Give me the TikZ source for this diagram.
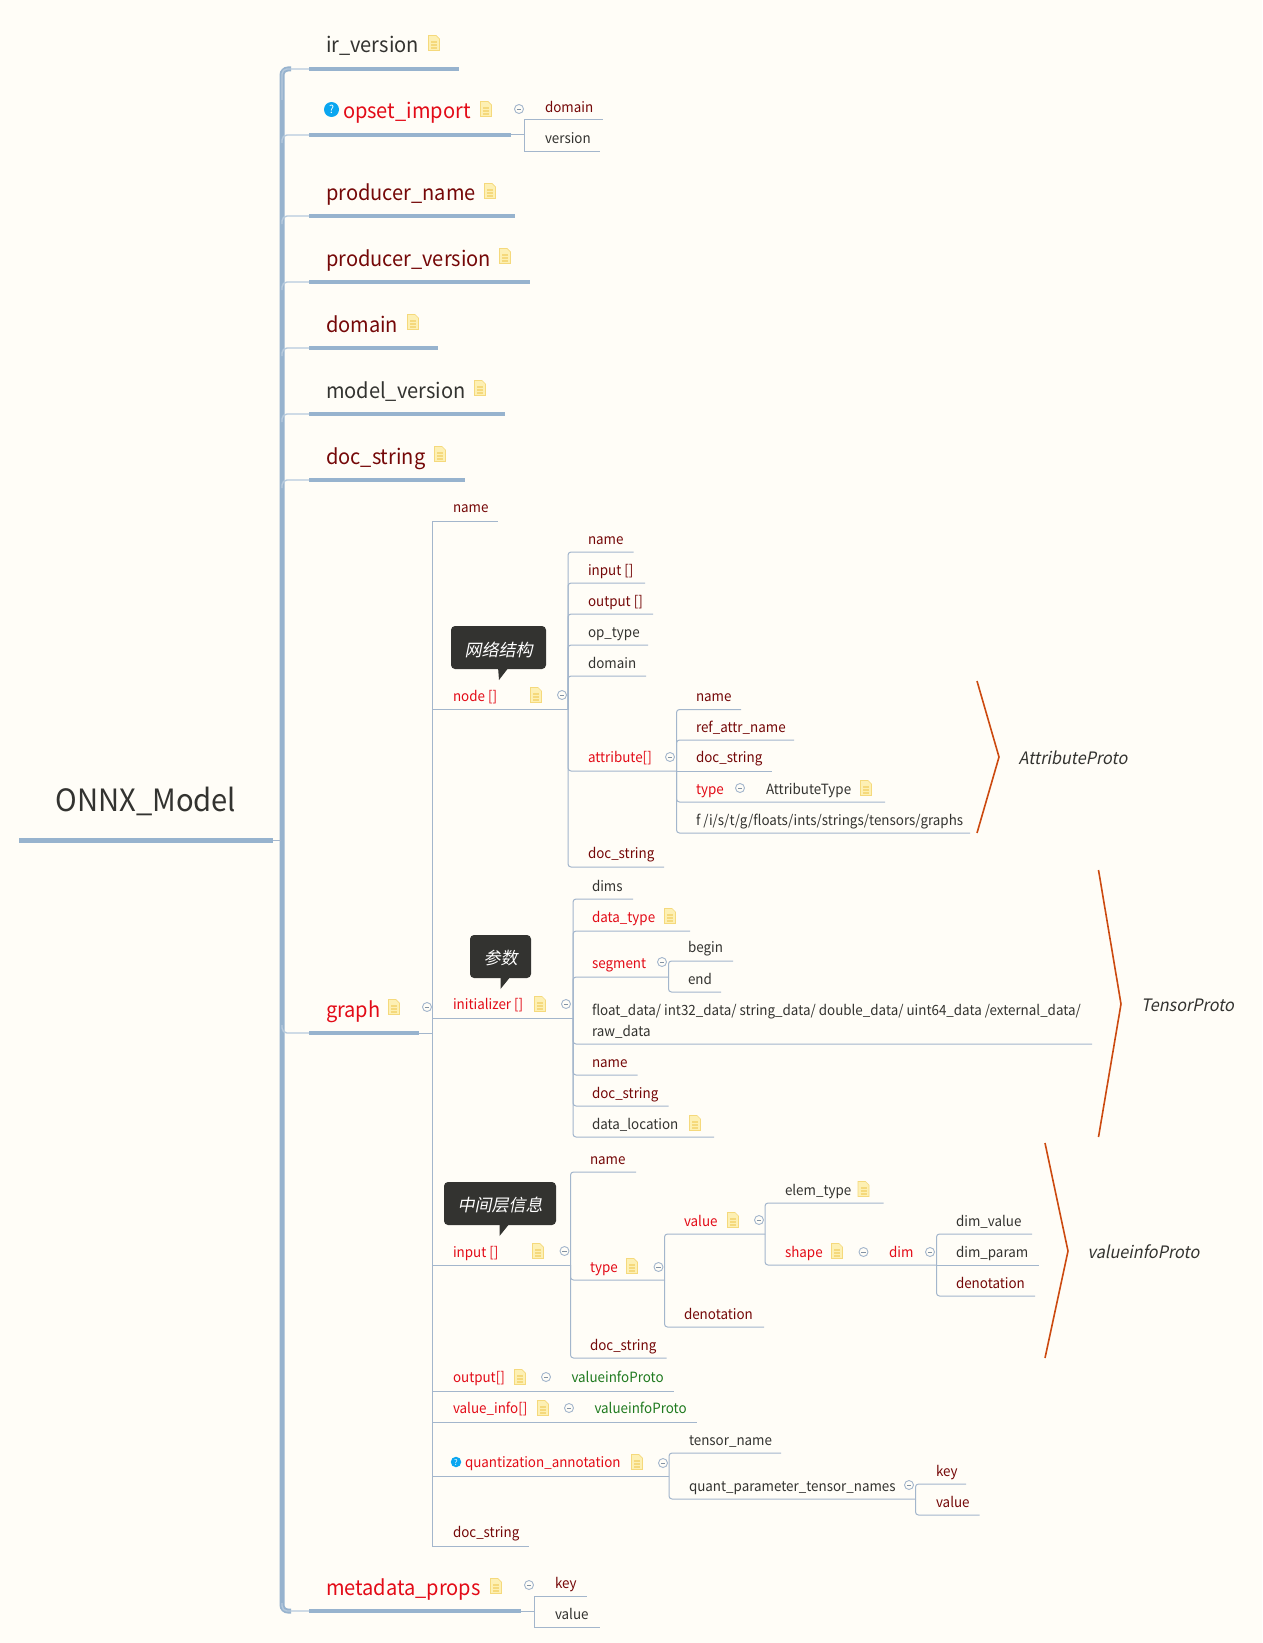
\documentclass[tikz,border=0pt]{standalone}
\usepackage{fontspec}
\setmainfont[AutoFakeSlant=0.2,FakeStretch=0.95]{Noto Sans CJK SC}
\newfontfamily\tipfont[AutoFakeSlant=0.2]{Noto Sans CJK SC}
\definecolor{PaperColor}{HTML}{FFFDF7}
\definecolor{TrunkColor}{HTML}{97B3CE}
\definecolor{EdgeColor}{HTML}{A3B6CC}
\definecolor{InkColor}{HTML}{333330}
\definecolor{DeepColor}{HTML}{750808}
\definecolor{AlertColor}{HTML}{E30B17}
\definecolor{LeafColor}{HTML}{1F7A1F}
\definecolor{BraceColor}{HTML}{CC4A10}
\definecolor{NoteFill}{HTML}{FDF0B4}
\definecolor{NoteLine}{HTML}{F5D97C}
\definecolor{HelpColor}{HTML}{0AA6F0}

\begin{document}
\begin{tikzpicture}[x=1pt,y=-1pt]
\useasboundingbox[fill=PaperColor] (0,0) rectangle (1262,1643);

\coordinate (S_root) at (19,840);
\coordinate (E_root) at (273,840);
\coordinate (C_root) at (281,840);
\coordinate (T_top) at (291,69);
\coordinate (T_bot) at (291,1611);

\coordinate (C_ir) at (282,100);
\coordinate (S_ir) at (309,69);
\coordinate (E_ir) at (459,69);
\coordinate (S_opset) at (309,135);
\coordinate (E_opset) at (511,135);
\coordinate (C_opset) at (524.5,135);
\coordinate (S_pname) at (309,216);
\coordinate (E_pname) at (515,216);
\coordinate (S_pver) at (309,282);
\coordinate (E_pver) at (530,282);
\coordinate (S_domain) at (309,348);
\coordinate (E_domain) at (438,348);
\coordinate (S_mver) at (309,414);
\coordinate (E_mver) at (505,414);
\coordinate (S_doc) at (309,480);
\coordinate (E_doc) at (465,480);
\coordinate (S_graph) at (309,1033);
\coordinate (E_graph) at (419,1033);
\coordinate (C_graph) at (432.5,1033);
\coordinate (S_meta) at (309,1611);
\coordinate (E_meta) at (521,1611);
\coordinate (C_meta) at (534,1611);

\coordinate (E_od) at (603,120);
\coordinate (E_ov) at (600,151.5);
\coordinate (E_mk) at (586.5,1596);
\coordinate (E_mv) at (599.5,1627);

\coordinate (E_gname) at (498,521);
\coordinate (C_node) at (568,709.5);
\coordinate (C_init) at (573,1018);
\coordinate (C_input) at (570.5,1265);
\coordinate (E_goutput) at (674,1391);
\coordinate (E_gvalue) at (697,1422);
\coordinate (C_quant) at (669,1476);
\coordinate (E_gdoc) at (529,1546);

\coordinate (E_n1) at (633.5,552);
\coordinate (E_n2) at (645,583);
\coordinate (E_n3) at (653,614);
\coordinate (E_n4) at (648,645);
\coordinate (E_n5) at (646,676);
\coordinate (C_attr) at (676.5,771);
\coordinate (E_n7) at (664,867);

\coordinate (E_a1) at (741,709.5);
\coordinate (E_a2) at (794,740);
\coordinate (E_a3) at (772,771);
\coordinate (E_a4) at (885,802);
\coordinate (E_a5) at (970,833);

\coordinate (E_i1) at (633,899);
\coordinate (E_i2) at (690,931);
\coordinate (C_seg) at (668.5,977);
\coordinate (E_begin) at (733,961);
\coordinate (E_end) at (721,992);
\coordinate (E_i4) at (1092,1044);
\coordinate (E_i5) at (637.5,1075);
\coordinate (E_i6) at (668.5,1106);
\coordinate (E_i7) at (714,1137);

\coordinate (E_v1) at (636,1172);
\coordinate (C_type) at (664.5,1280);
\coordinate (E_v3) at (666.5,1358);
\coordinate (C_value) at (765,1234);
\coordinate (E_deno) at (764,1327);
\coordinate (E_elem) at (883.5,1203);
\coordinate (C_shape) at (936.5,1265);
\coordinate (E_dv) at (1032,1234);
\coordinate (E_dp) at (1039,1265);
\coordinate (E_dd) at (1035,1296);

\coordinate (E_tn) at (781,1453);
\coordinate (C_qp) at (915.5,1499);
\coordinate (E_qk) at (966,1484);
\coordinate (E_qv) at (979.5,1515);

\coordinate (B1_1) at (977,681);
\coordinate (B1_2) at (999,757);
\coordinate (B1_3) at (977,833);
\coordinate (B2_1) at (1098.5,870);
\coordinate (B2_2) at (1121,1004);
\coordinate (B2_3) at (1098.5,1137);
\coordinate (B3_1) at (1045,1143);
\coordinate (B3_2) at (1068,1251);
\coordinate (B3_3) at (1045,1358);


\tikzset{TrunkStyle/.style = {draw=TrunkColor, line width=5pt, rounded corners=6pt} }
\tikzset{TopicStyle/.style = {draw=TrunkColor, line width=4pt} }
\tikzset{StubStyle/.style = {draw=TrunkColor!70, line width=1.4pt, rounded corners=5pt} }
\tikzset{EdgeStyle/.style = {draw=EdgeColor, line width=1pt} }
\tikzset{CurveStyle/.style = {EdgeStyle, rounded corners=3pt} }
\tikzset{BraceStyle/.style = {draw=BraceColor, line width=1.6pt} }

\draw[TrunkStyle] (T_top) -- ++(-9,0) |- (T_bot);
\draw[TopicStyle, line width=5pt] (S_root) -- (E_root);
\draw[EdgeStyle] (E_root) -- (C_root);
\draw[StubStyle] (C_ir) |- (S_ir);
\draw[StubStyle] (C_ir |- E_opset) ++(0,8) |- (S_opset);
\draw[StubStyle] (C_ir |- E_pname) ++(0,8) |- (S_pname);
\draw[StubStyle] (C_ir |- E_pver) ++(0,8) |- (S_pver);
\draw[StubStyle] (C_ir |- E_domain) ++(0,8) |- (S_domain);
\draw[StubStyle] (C_ir |- E_mver) ++(0,8) |- (S_mver);
\draw[StubStyle] (C_ir |- E_doc) ++(0,8) |- (S_doc);
\draw[StubStyle] (C_ir |- E_graph) ++(0,-8) |- (S_graph);
\draw[StubStyle] (C_ir |- E_meta) ++(0,-8) |- (S_meta);

\draw[TopicStyle] (S_ir) -- (E_ir);
\draw[TopicStyle] (S_opset) -- (E_opset);
\draw[TopicStyle] (S_pname) -- (E_pname);
\draw[TopicStyle] (S_pver) -- (E_pver);
\draw[TopicStyle] (S_domain) -- (E_domain);
\draw[TopicStyle] (S_mver) -- (E_mver);
\draw[TopicStyle] (S_doc) -- (E_doc);
\draw[TopicStyle] (S_graph) -- (E_graph);
\draw[TopicStyle] (S_meta) -- (E_meta);

\draw[EdgeStyle] (E_opset) -- (C_opset);
\draw[EdgeStyle] (C_opset) |- (E_od);
\draw[EdgeStyle] (C_opset) |- (E_ov);
\draw[EdgeStyle] (E_graph) -- (C_graph);
\draw[EdgeStyle] (E_meta) -- (C_meta);
\draw[EdgeStyle] (C_meta) |- (E_mk);
\draw[EdgeStyle] (C_meta) |- (E_mv);

\draw[EdgeStyle] (C_graph) |- (E_gname);
\draw[EdgeStyle] (C_graph) |- (C_node);
\draw[EdgeStyle] (C_graph) |- (C_init);
\draw[EdgeStyle] (C_graph) |- (C_input);
\draw[EdgeStyle] (C_graph) |- (E_goutput);
\draw[EdgeStyle] (C_graph) |- (E_gvalue);
\draw[EdgeStyle] (C_graph) |- (C_quant);
\draw[EdgeStyle] (C_graph) |- (E_gdoc);

\draw[CurveStyle] (C_node) |- (E_n1);
\draw[CurveStyle] (C_node) |- (E_n2);
\draw[CurveStyle] (C_node) |- (E_n3);
\draw[CurveStyle] (C_node) |- (E_n4);
\draw[CurveStyle] (C_node) |- (E_n5);
\draw[CurveStyle] (C_node) |- (C_attr);
\draw[CurveStyle] (C_node) |- (E_n7);
\draw[CurveStyle] (C_attr) |- (E_a1);
\draw[CurveStyle] (C_attr) |- (E_a2);
\draw[EdgeStyle] (C_attr) -- (E_a3);
\draw[CurveStyle] (C_attr) |- (E_a4);
\draw[CurveStyle] (C_attr) |- (E_a5);

\draw[CurveStyle] (C_init) |- (E_i1);
\draw[CurveStyle] (C_init) |- (E_i2);
\draw[CurveStyle] (C_init) |- (C_seg);
\draw[CurveStyle] (C_seg) |- (E_begin);
\draw[CurveStyle] (C_seg) |- (E_end);
\draw[CurveStyle] (C_init) |- (E_i4);
\draw[CurveStyle] (C_init) |- (E_i5);
\draw[CurveStyle] (C_init) |- (E_i6);
\draw[CurveStyle] (C_init) |- (E_i7);

\draw[CurveStyle] (C_input) |- (E_v1);
\draw[CurveStyle] (C_input) |- (C_type);
\draw[CurveStyle] (C_input) |- (E_v3);
\draw[CurveStyle] (C_type) |- (C_value);
\draw[CurveStyle] (C_type) |- (E_deno);
\draw[CurveStyle] (C_value) |- (E_elem);
\draw[CurveStyle] (C_value) |- (C_shape);
\draw[CurveStyle] (C_shape) |- (E_dv);
\draw[EdgeStyle] (C_shape) -- (E_dp);
\draw[CurveStyle] (C_shape) |- (E_dd);

\draw[CurveStyle] (C_quant) |- (E_tn);
\draw[CurveStyle] (C_quant) |- (C_qp);
\draw[CurveStyle] (C_qp) |- (E_qk);
\draw[CurveStyle] (C_qp) |- (E_qv);

\draw[BraceStyle] (B1_1) -- (B1_2) -- (B1_3);
\draw[BraceStyle] (B2_1) -- (B2_2) -- (B2_3);
\draw[BraceStyle] (B3_1) -- (B3_2) -- (B3_3);


\tikzset{TextStyle/.style = {
 anchor = base west,
 inner sep = 0pt,
 outer sep = 0pt} }
\tikzset{TopStyle/.style = {TextStyle, font=\fontsize{21.1}{22}\selectfont} }
\tikzset{SubStyle/.style = {TextStyle, font=\fontsize{14.1}{21}\selectfont} }
\tikzset{InkStyle/.style = {text=InkColor} }
\tikzset{DeepStyle/.style = {text=DeepColor} }
\tikzset{AlertStyle/.style = {text=AlertColor} }
\tikzset{LeafStyle/.style = {text=LeafColor} }
\tikzset{ProtoStyle/.style = {anchor=west, inner sep=0pt, text=InkColor, font=\fontsize{17.1}{18}\selectfont\itshape} }
\tikzset{TipStyle/.style = {
 fill = InkColor,
 text = white,
 rounded corners = 4pt,
 inner sep = 0pt,
 font = \tipfont\fontsize{17}{17}\selectfont\itshape} }
\tikzset{HelpStyle/.style = {
 shape = circle,
 fill = HelpColor,
 text = white,
 inner sep = 0pt,
 font = \bfseries} }

\node[TextStyle, InkStyle, font=\fontsize{30.7}{31}\selectfont] (T_root) at (55.5,811) {ONNX\_Model};

\node[TopStyle, InkStyle] (T_ir) at (326,53) {ir\_version};
\node[TopStyle, AlertStyle] (T_opset) at (343,119) {opset\_import};
\node[TopStyle, DeepStyle] (T_pname) at (326,200) {producer\_name};
\node[TopStyle, DeepStyle] (T_pver) at (326,266) {producer\_version};
\node[TopStyle, DeepStyle] (T_domain) at (326,332) {domain};
\node[TopStyle, InkStyle] (T_mver) at (326,398) {model\_version};
\node[TopStyle, DeepStyle] (T_doc) at (326,464) {doc\_string};
\node[TopStyle, AlertStyle] (T_graph) at (326,1017.5) {graph};
\node[TopStyle, AlertStyle] (T_meta) at (326,1595) {metadata\_props};

\node[SubStyle, DeepStyle] (T_od) at (545,113) {domain};
\node[SubStyle, InkStyle] (T_ov) at (545,143.5) {version};
\node[SubStyle, DeepStyle] (T_mk) at (555,1588) {key};
\node[SubStyle, InkStyle] (T_mv) at (555,1619) {value};

\node[SubStyle, DeepStyle] (T_gname) at (453,512.5) {name};
\node[SubStyle, AlertStyle] (T_node) at (453,701.5) {node []};
\node[SubStyle, AlertStyle] (T_init) at (453,1009.5) {initializer []};
\node[SubStyle, AlertStyle] (T_input) at (453,1257) {input []};
\node[SubStyle, AlertStyle] (T_goutput) at (453,1382.5) {output[]};
\node[SubStyle, LeafStyle] (T_gout) at (571.5,1382.5) {valueinfoProto};
\node[SubStyle, AlertStyle] (T_gvalue) at (453,1413.5) {value\_info[]};
\node[SubStyle, LeafStyle] (T_gval) at (594.5,1413.5) {valueinfoProto};
\node[SubStyle, AlertStyle] (T_quant) at (465,1467.5) {quantization\_annotation};
\node[SubStyle, DeepStyle] (T_gdoc) at (453,1537.5) {doc\_string};

\node[SubStyle, DeepStyle] (T_n1) at (588,544) {name};
\node[SubStyle, DeepStyle] (T_n2) at (588,575) {input []};
\node[SubStyle, DeepStyle] (T_n3) at (588,606) {output []};
\node[SubStyle, InkStyle] (T_n4) at (588,637) {op\_type};
\node[SubStyle, InkStyle] (T_n5) at (588,668) {domain};
\node[SubStyle, AlertStyle] (T_attr) at (588,762.5) {attribute[]};
\node[SubStyle, DeepStyle] (T_n7) at (588,858) {doc\_string};

\node[SubStyle, DeepStyle] (T_a1) at (696,701.5) {name};
\node[SubStyle, DeepStyle] (T_a2) at (696,732) {ref\_attr\_name};
\node[SubStyle, DeepStyle] (T_a3) at (696,762.5) {doc\_string};
\node[SubStyle, AlertStyle] (T_a4) at (696,794) {type};
\node[SubStyle, InkStyle] (T_atype) at (766,794) {AttributeType};
\node[SubStyle, InkStyle] (T_a5) at (696,825) {f /i/s/t/g/floats/ints/strings/tensors/graphs};

\node[SubStyle, InkStyle] (T_i1) at (592,891) {dims};
\node[SubStyle, AlertStyle] (T_i2) at (592,922) {data\_type};
\node[SubStyle, AlertStyle] (T_seg) at (592,968) {segment};
\node[SubStyle, InkStyle] (T_begin) at (688,952.5) {begin};
\node[SubStyle, InkStyle] (T_end) at (688,984) {end};
\node[SubStyle, InkStyle, anchor=south west, align=left] (T_i4) at (592,1038.5) {float\_data/ int32\_data/ string\_data/ double\_data/ uint64\_data /external\_data/\\raw\_data};
\node[SubStyle, DeepStyle] (T_i5) at (592,1067) {name};
\node[SubStyle, DeepStyle] (T_i6) at (592,1098) {doc\_string};
\node[SubStyle, InkStyle] (T_i7) at (592,1129) {data\_location};

\node[SubStyle, DeepStyle] (T_v1) at (590,1164) {name};
\node[SubStyle, AlertStyle] (T_type) at (590,1272) {type};
\node[SubStyle, DeepStyle] (T_v3) at (590,1350) {doc\_string};
\node[SubStyle, AlertStyle] (T_value) at (684,1226) {value};
\node[SubStyle, DeepStyle] (T_deno) at (684,1319) {denotation};
\node[SubStyle, InkStyle] (T_elem) at (785,1195) {elem\_type};
\node[SubStyle, AlertStyle] (T_shape) at (785,1257) {shape};
\node[SubStyle, AlertStyle] (T_dim) at (889,1257) {dim};
\node[SubStyle, InkStyle] (T_dv) at (956,1226) {dim\_value};
\node[SubStyle, InkStyle] (T_dp) at (956,1257) {dim\_param};
\node[SubStyle, DeepStyle] (T_dd) at (956,1288) {denotation};

\node[SubStyle, InkStyle] (T_tn) at (689,1445) {tensor\_name};
\node[SubStyle, InkStyle] (T_qp) at (689,1491) {quant\_parameter\_tensor\_names};
\node[SubStyle, DeepStyle] (T_qk) at (936,1476) {key};
\node[SubStyle, DeepStyle] (T_qv) at (936,1507) {value};

\node[ProtoStyle] (P_attr) at (1018.5,757.5) {AttributeProto};
\node[ProtoStyle] (P_tensor) at (1141,1005) {TensorProto};
\node[ProtoStyle] (P_value) at (1087.5,1252) {valueinfoProto};

\node[HelpStyle, minimum size=15pt, font=\fontsize{11}{11}\selectfont] (H_opset) at (331.5,109.5) {?};
\node[HelpStyle, minimum size=10.5pt, font=\fontsize{8}{8}\selectfont] (H_quant) at (456,1462) {?};

\node[TipStyle, minimum width=95pt, minimum height=43pt] (N_node) at (498.5,647.5) {\raisebox{-2pt}[\height][\depth]{网络结构}};
\fill[InkColor] (498,667) -- (509,667) -- (499,680) -- cycle;
\node[TipStyle, minimum width=61pt, minimum height=43pt] (N_init) at (500.5,956.5) {\raisebox{-2pt}[\height][\depth]{参数}};
\fill[InkColor] (500.5,976) -- (511,976) -- (500.5,989) -- cycle;
\node[TipStyle, minimum width=112pt, minimum height=43pt] (N_input) at (500,1203.5) {\raisebox{-2pt}[\height][\depth]{中间层信息}};
\fill[InkColor] (499.5,1223) -- (510,1223) -- (499.5,1236) -- cycle;


\tikzset{NoteIcon/.pic = {
 \fill[NoteFill, draw=NoteLine, line width=.7pt] (-5.5,-7.5) -- (2,-7.5) -- (5.5,-4) -- (5.5,7.5) -- (-5.5,7.5) -- cycle;
 \draw[NoteLine, line width=1.2pt] (-3,-1) -- (3,-1);
 \draw[NoteLine, line width=1.2pt] (-3,2) -- (3,2);
 \draw[NoteLine, line width=1.2pt] (-3,5) -- (3,5);
} }
\tikzset{FoldIcon/.pic = {
 \draw[EdgeColor, fill=PaperColor, line width=.9pt] (0,0) circle (4.5);
 \draw[EdgeColor!80!black, line width=.9pt] (-2.2,0) -- (2.2,0);
} }

\pic at (434,43) {NoteIcon};
\pic at (486,109) {NoteIcon};
\pic at (490,191) {NoteIcon};
\pic at (505,256) {NoteIcon};
\pic at (413,322) {NoteIcon};
\pic at (480,388) {NoteIcon};
\pic at (440,454) {NoteIcon};
\pic at (394,1007) {NoteIcon};
\pic at (496,1586) {NoteIcon};
\pic at (536,695) {NoteIcon};
\pic at (866,788) {NoteIcon};
\pic at (670,916) {NoteIcon};
\pic at (540,1004) {NoteIcon};
\pic at (695,1123) {NoteIcon};
\pic at (538,1251) {NoteIcon};
\pic at (632,1266) {NoteIcon};
\pic at (733,1220) {NoteIcon};
\pic at (863.5,1189) {NoteIcon};
\pic at (837,1251) {NoteIcon};
\pic at (520,1377) {NoteIcon};
\pic at (543,1408) {NoteIcon};
\pic at (637,1462) {NoteIcon};

\pic at (519,109) {FoldIcon};
\pic at (427,1007) {FoldIcon};
\pic at (529,1585) {FoldIcon};
\pic at (562,695) {FoldIcon};
\pic at (670,757) {FoldIcon};
\pic at (740,788) {FoldIcon};
\pic at (566,1004) {FoldIcon};
\pic at (662,962) {FoldIcon};
\pic at (564.5,1251) {FoldIcon};
\pic at (658.5,1267) {FoldIcon};
\pic at (759,1220) {FoldIcon};
\pic at (863.5,1252) {FoldIcon};
\pic at (930,1252) {FoldIcon};
\pic at (546,1377) {FoldIcon};
\pic at (569,1408) {FoldIcon};
\pic at (663,1463) {FoldIcon};
\pic at (909,1485) {FoldIcon};

\end{tikzpicture}
\end{document}
